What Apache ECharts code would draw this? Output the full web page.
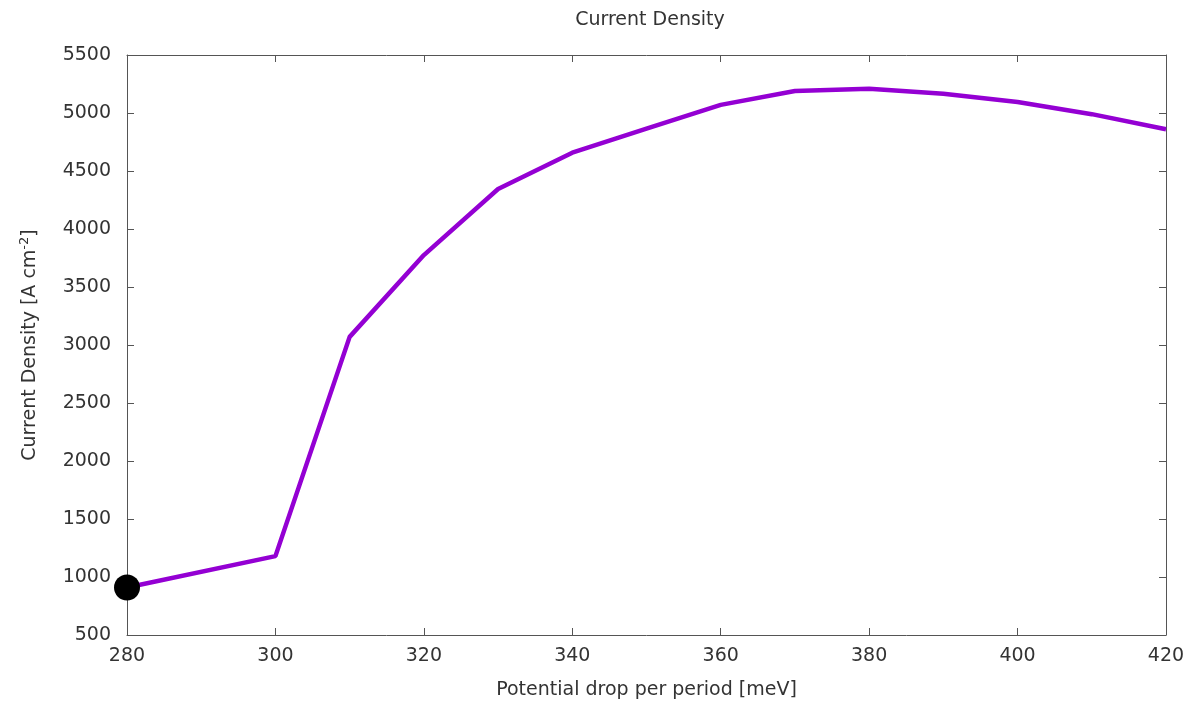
<!DOCTYPE html>
<html>
<head>
<meta charset="utf-8">
<script src="https://cdn.jsdelivr.net/npm/echarts@6/dist/echarts.min.js"></script>
<style>html,body{margin:0;padding:0;background:#fff}#c{width:1190px;height:709px}</style>
</head>
<body>
<div id="c"></div>
<script>
var potential = [280, 300, 310, 320, 330, 340, 350, 360, 370, 380, 390, 400, 410, 420];
var currentDensity = [910, 1180, 3070, 3775, 4345, 4658, 4865, 5070, 5190, 5210, 5165, 5095, 4990, 4860];
var markerPoint = [[280, 910]];
var titleText = 'Current Density';
var xName = 'Potential drop per period [meV]';

var font = 'DejaVu Sans';
var textColor = '#333';
var lineColor = '#555';
var fs = 19;
var chart = echarts.init(document.getElementById('c'));
var pts = potential.map(function (x, i) { return [x, currentDensity[i]]; });
var axisCommon = {
  axisLine: { show: true, onZero: false, lineStyle: { color: lineColor, width: 1 } },
  axisTick: { show: true, inside: true, length: 7, lineStyle: { color: lineColor } },
  splitLine: { show: false }
};
function plain(v) { return String(v); }
chart.setOption({
  animation: false,
  backgroundColor: '#fff',
  title: {
    text: titleText, left: 645, textAlign: 'center', top: 6,
    textStyle: { fontFamily: font, fontSize: fs, fontWeight: 'normal', color: textColor }
  },
  grid: { left: 127, right: 24, top: 55, bottom: 74, containLabel: false },
  xAxis: [
    Object.assign({
      type: 'value', min: 280, max: 420, interval: 20, position: 'bottom',
      name: xName, nameLocation: 'middle', nameGap: 46,
      nameTextStyle: { fontFamily: font, fontSize: fs, color: textColor },
      axisLabel: { fontFamily: font, fontSize: fs, color: textColor, margin: 12, formatter: plain }
    }, axisCommon),
    Object.assign({
      type: 'value', min: 280, max: 420, interval: 20, position: 'top',
      axisLabel: { show: false }
    }, axisCommon)
  ],
  yAxis: [
    Object.assign({
      type: 'value', min: 500, max: 5500, interval: 500, position: 'left',
      name: '{n|Current Density [A cm}{s|-2}{n|]}', nameLocation: 'middle', nameGap: 84,
      nameTextStyle: {
        rich: {
          n: { fontFamily: font, fontSize: fs, color: textColor },
          s: { fontFamily: font, fontSize: 13, color: textColor, padding: [0, 0, 12, 0] }
        }
      },
      axisLabel: { fontFamily: font, fontSize: fs, color: textColor, margin: 16, formatter: plain }
    }, axisCommon),
    Object.assign({
      type: 'value', min: 500, max: 5500, interval: 500, position: 'right',
      axisLabel: { show: false }
    }, axisCommon)
  ],
  series: [
    {
      type: 'line', data: pts, showSymbol: false, symbol: 'none',
      lineStyle: { color: '#9400d3', width: 4.5 }, z: 2
    },
    {
      type: 'scatter', data: markerPoint, symbol: 'circle', symbolSize: 26,
      itemStyle: { color: '#000', opacity: 1 }, z: 5
    }
  ]
});
</script>
</body>
</html>
